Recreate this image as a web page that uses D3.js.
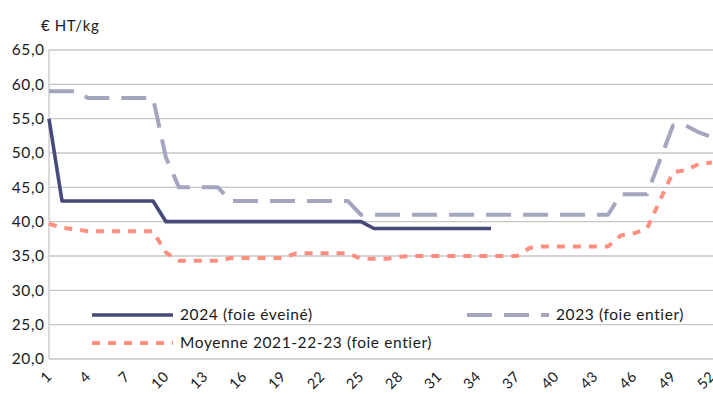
<!DOCTYPE html>
<html><head><meta charset="utf-8">
<script src="https://cdn.jsdelivr.net/npm/d3@7"></script>
<style>
body{margin:0;background:#fff;}
svg text{font-family:Lato, "Open Sans", sans-serif;fill:#1a1a1a;letter-spacing:0.6px;}
svg text.xt{letter-spacing:0.3px;}
</style></head>
<body><svg id="c" width="713" height="394"></svg>
<script>
const weeks = d3.range(1, 53);
const tickWeeks = [1,4,7,10,13,16,19,22,25,28,31,34,37,40,43,46,49,52];
const yTicks = [20,25,30,35,40,45,50,55,60,65];
const s2024 = [55,43,43,43,43,43,43,43,43,40,40,40,40,40,40,40,40,40,40,40,40,40,40,40,40,39,39,39,39,39,39,39,39,39,39];
const s2023 = [59,59,59,58,58,58,58,58,58,49.3,45,45,45,45,43,43,43,43,43,43,43,43,43,43,41,41,41,41,41,41,41,41,41,41,41,41,41,41,41,41,41,41,41,41,44,44,44,49,54,54,53,52.3];
const sMoy = [39.7,39.1,38.9,38.6,38.6,38.6,38.6,38.6,38.6,35.5,34.3,34.3,34.3,34.3,34.7,34.7,34.7,34.7,34.7,35.4,35.4,35.4,35.4,35.4,34.6,34.6,34.6,34.9,35,35,35,35,35,35,35,35,35,36.2,36.4,36.4,36.4,36.4,36.4,36.4,38,38.3,39,43.1,47.2,47.5,48.4,48.6];
const seriesNames = ["2024 (foie éveiné)", "2023 (foie entier)", "Moyenne 2021-22-23 (foie entier)"];
const unitLabel = "€ HT/kg";

(function(){
const svg = d3.select("#c");
const mLeft = 49, mRight = 712, mTop = 50, mBottom = 359;
const x = d3.scalePoint().domain(weeks).range([mLeft, mRight]);
const y = d3.scaleLinear().domain([20, 65]).range([mBottom, mTop]);
const fmt = v => d3.format(".1f")(v).replace(".", ",");

svg.append("g").selectAll("line").data(yTicks.filter(v => v > 20)).join("line")
  .attr("x1", mLeft).attr("x2", 713).attr("y1", d => y(d)).attr("y2", d => y(d))
  .attr("stroke", "#c6c6c6").attr("stroke-width", 1.3);
svg.append("line").attr("x1", mLeft).attr("x2", 713).attr("y1", y(20)).attr("y2", y(20))
  .attr("stroke", "#c6c6c6").attr("stroke-width", 1.3);
svg.append("line").attr("x1", mLeft).attr("x2", mLeft).attr("y1", y(65)).attr("y2", y(20))
  .attr("stroke", "#c6c6c6").attr("stroke-width", 1.3);

svg.append("g").selectAll("text").data(yTicks).join("text")
  .attr("x", 44.6).attr("y", d => y(d)).attr("dy", "0.35em").attr("text-anchor", "end")
  .attr("font-size", 15.5).text(fmt);
svg.append("text").attr("x", 41).attr("y", 26).attr("dy", "0.35em").attr("font-size", 15).text(unitLabel);

svg.append("g").selectAll("text").data(tickWeeks).join("text").attr("class", "xt")
  .attr("transform", d => `translate(${x(d)},374) rotate(-45)`)
  .attr("text-anchor", "end").attr("dy", "0.35em").attr("font-size", 14.5).text(d => d);

const line = d3.line().x((d, i) => x(i + 1)).y(d => y(d)).curve(d3.curveLinear);
const styles = [
  {color: "#464a78", width: 3.6, dash: null},
  {color: "#a4a6bf", width: 4, dash: "25,12"},
  {color: "#ff8f7f", width: 4, dash: "8,8"}
];
const data = [s2024, s2023, sMoy];
[2,1,0].forEach(i => {
  svg.append("path").attr("d", line(data[i])).attr("fill", "none")
    .attr("stroke", styles[i].color).attr("stroke-width", styles[i].width)
    .attr("stroke-dasharray", styles[i].dash).attr("stroke-linejoin", "round");
});

const leg = [
  {i: 0, x1: 92, x2: 173, ty: 315},
  {i: 1, x1: 467, x2: 549, ty: 315},
  {i: 2, x1: 92, x2: 173, ty: 343}
];
leg.forEach(l => {
  svg.append("line").attr("x1", l.x1).attr("x2", l.x2).attr("y1", l.ty).attr("y2", l.ty)
    .attr("stroke", styles[l.i].color).attr("stroke-width", styles[l.i].width)
    .attr("stroke-dasharray", styles[l.i].dash);
  svg.append("text").attr("x", l.x2 + 7).attr("y", l.ty).attr("dy", "0.35em")
    .attr("font-size", 15.5).text(seriesNames[l.i]);
});
})();
</script></body></html>
